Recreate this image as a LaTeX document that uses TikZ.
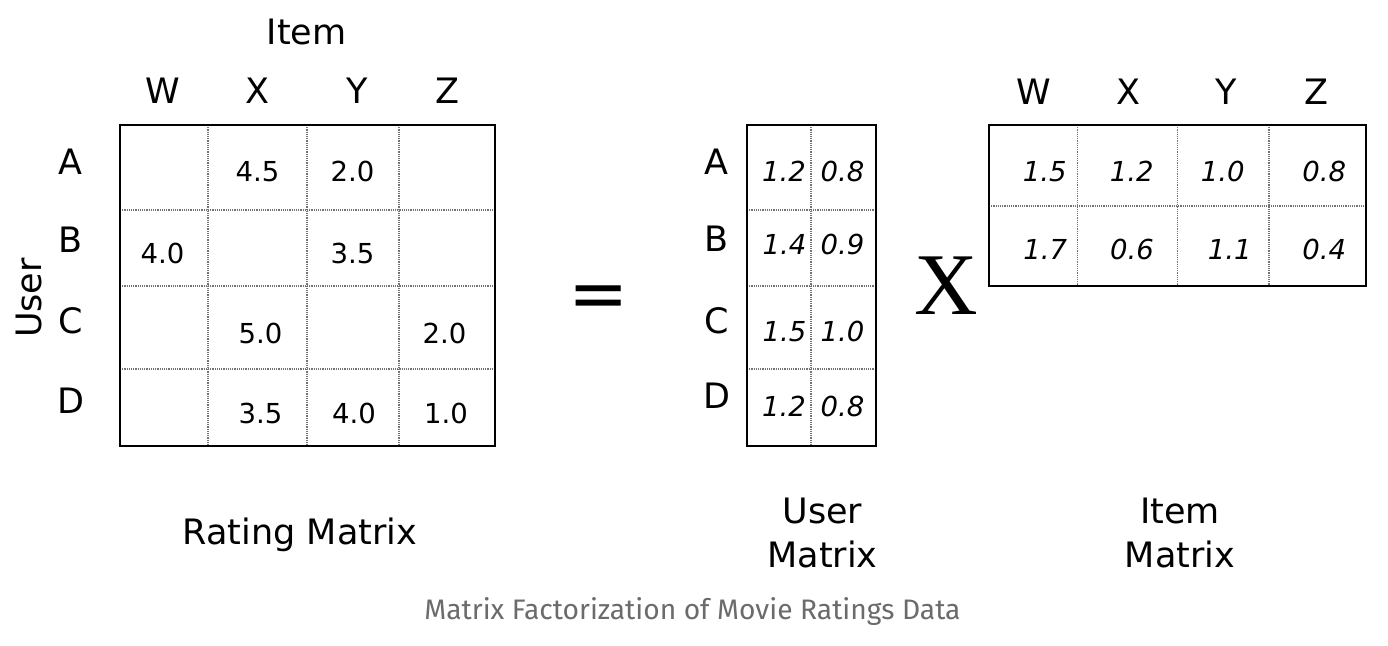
\documentclass[tikz,border=0pt]{standalone}
\usepackage{fontspec}
\setmainfont{DejaVu Sans}
\newfontfamily\capfont{Fira Sans}
\newfontfamily\bigxfont{Liberation Serif}
\newcommand\labsize{\fontsize{17.5pt}{21pt}\selectfont}
\newcommand\numsize{\fontsize{13.75pt}{16pt}\selectfont}
\begin{document}
\begin{tikzpicture}[x=0.5pt,y=-0.5pt,
  lab/.style={font=\labsize, anchor=base, inner sep=0pt},
  num/.style={font=\numsize, anchor=base, inner sep=0pt},
  inum/.style={font=\numsize\itshape, anchor=base, inner sep=0pt},
  frame/.style={draw=black, line width=1pt},
  gridline/.style={draw=black!55, line width=0.6pt, dash pattern=on 0.6pt off 0.5pt}]
\useasboundingbox[fill=white] (0,0) rectangle (1388,646);

% ---------- Rating matrix ----------
\coordinate (R-nw) at (120,125);
\coordinate (R-se) at (495,446);
\draw[gridline] (208,125) -- (208,446) (307,125) -- (307,446) (399,125) -- (399,446);
\draw[gridline] (120,210) -- (495,210) (120,286) -- (495,286) (120,369) -- (495,369);
\draw[frame] (R-nw) rectangle (R-se);

\node[lab] (item) at (306.7,45) {Item};
\node[lab] (rW) at (162.5,104) {W};
\node[lab] (rX) at (257.5,104) {X};
\node[lab] (rY) at (357.5,104) {Y};
\node[lab] (rZ) at (447.5,104) {Z};
\node[lab] (rA) at (70.5,175) {A};
\node[lab] (rB) at (70.5,253) {B};
\node[lab] (rC) at (70.5,334) {C};
\node[lab] (rD) at (70.5,413.3) {D};
\node[lab, rotate=90] (user) at (41.7,298) {User};

\node[num] (r11) at (257.5,181.7) {4.5};
\node[num] (r12) at (352.5,181.7) {2.0};
\node[num] (r21) at (162.5,263.3) {4.0};
\node[num] (r22) at (352.5,263.3) {3.5};
\node[num] (r31) at (260.5,343.3) {5.0};
\node[num] (r32) at (444.5,343.3) {2.0};
\node[num] (r41) at (260.5,423.3) {3.5};
\node[num] (r42) at (354,423.3) {4.0};
\node[num] (r43) at (446,423.3) {1.0};

\node[lab] (rtitle) at (300,545) {Rating Matrix};

% ---------- equals ----------
\node[font=\fontsize{36pt}{40pt}\selectfont, anchor=base, inner sep=0pt] (eq) at (599,318.5) {=};

% ---------- User matrix ----------
\coordinate (U-nw) at (747,125);
\coordinate (U-se) at (876,446);
\draw[gridline] (811,125) -- (811,446);
\draw[gridline] (747,210) -- (876,210) (747,286) -- (876,286) (747,369) -- (876,369);
\draw[frame] (U-nw) rectangle (U-se);

\node[lab] (uA) at (716.7,175) {A};
\node[lab] (uB) at (716.7,251.7) {B};
\node[lab] (uC) at (716.7,333.3) {C};
\node[lab] (uD) at (716.7,408.3) {D};

\node[inum] (u11) at (784,181.7) {1.2};
\node[inum] (u12) at (842.5,181.7) {0.8};
\node[inum] (u21) at (784.5,255) {1.4};
\node[inum] (u22) at (842.5,255) {0.9};
\node[inum] (u31) at (784.5,341.7) {1.5};
\node[inum] (u32) at (842.5,341.7) {1.0};
\node[inum] (u41) at (784,416.7) {1.2};
\node[inum] (u42) at (842.5,416.7) {0.8};

\node[lab] (utitle) at (822.5,523.3) {User};
\node[lab] (utitle2) at (822.5,567.3) {Matrix};

% ---------- times ----------
\node[font=\bigxfont\fontsize{44pt}{48pt}\selectfont, anchor=base, inner sep=0pt] (times) at (946,315) {X};

% ---------- Item matrix ----------
\coordinate (I-nw) at (989,125);
\coordinate (I-se) at (1365.5,286.5);
\draw[gridline] (1077.7,125) -- (1077.7,286.5) (1177.3,125) -- (1177.3,286.5) (1269,125) -- (1269,286.5);
\draw[gridline] (989,206) -- (1365.5,206);
\draw[frame] (I-nw) rectangle (I-se);

\node[lab] (iW) at (1034,105) {W};
\node[lab] (iX) at (1128,105) {X};
\node[lab] (iY) at (1225.8,105) {Y};
\node[lab] (iZ) at (1316.7,105) {Z};

\node[inum] (i11) at (1044.7,181.7) {1.5};
\node[inum] (i12) at (1131.7,181.7) {1.2};
\node[inum] (i13) at (1222.8,181.7) {1.0};
\node[inum] (i14) at (1324.3,181.7) {0.8};
\node[inum] (i21) at (1045.3,260) {1.7};
\node[inum] (i22) at (1132,260) {0.6};
\node[inum] (i23) at (1229.7,260) {1.1};
\node[inum] (i24) at (1324.3,260) {0.4};

\node[lab] (ititle) at (1180,523.3) {Item};
\node[lab] (ititle2) at (1180,567.3) {Matrix};

% ---------- caption ----------
\node[font=\capfont\fontsize{14.1pt}{17pt}\selectfont, text=black!58, anchor=base, inner sep=0pt] (caption) at (692.5,620) {Matrix Factorization of Movie Ratings Data};
\end{tikzpicture}
\end{document}
